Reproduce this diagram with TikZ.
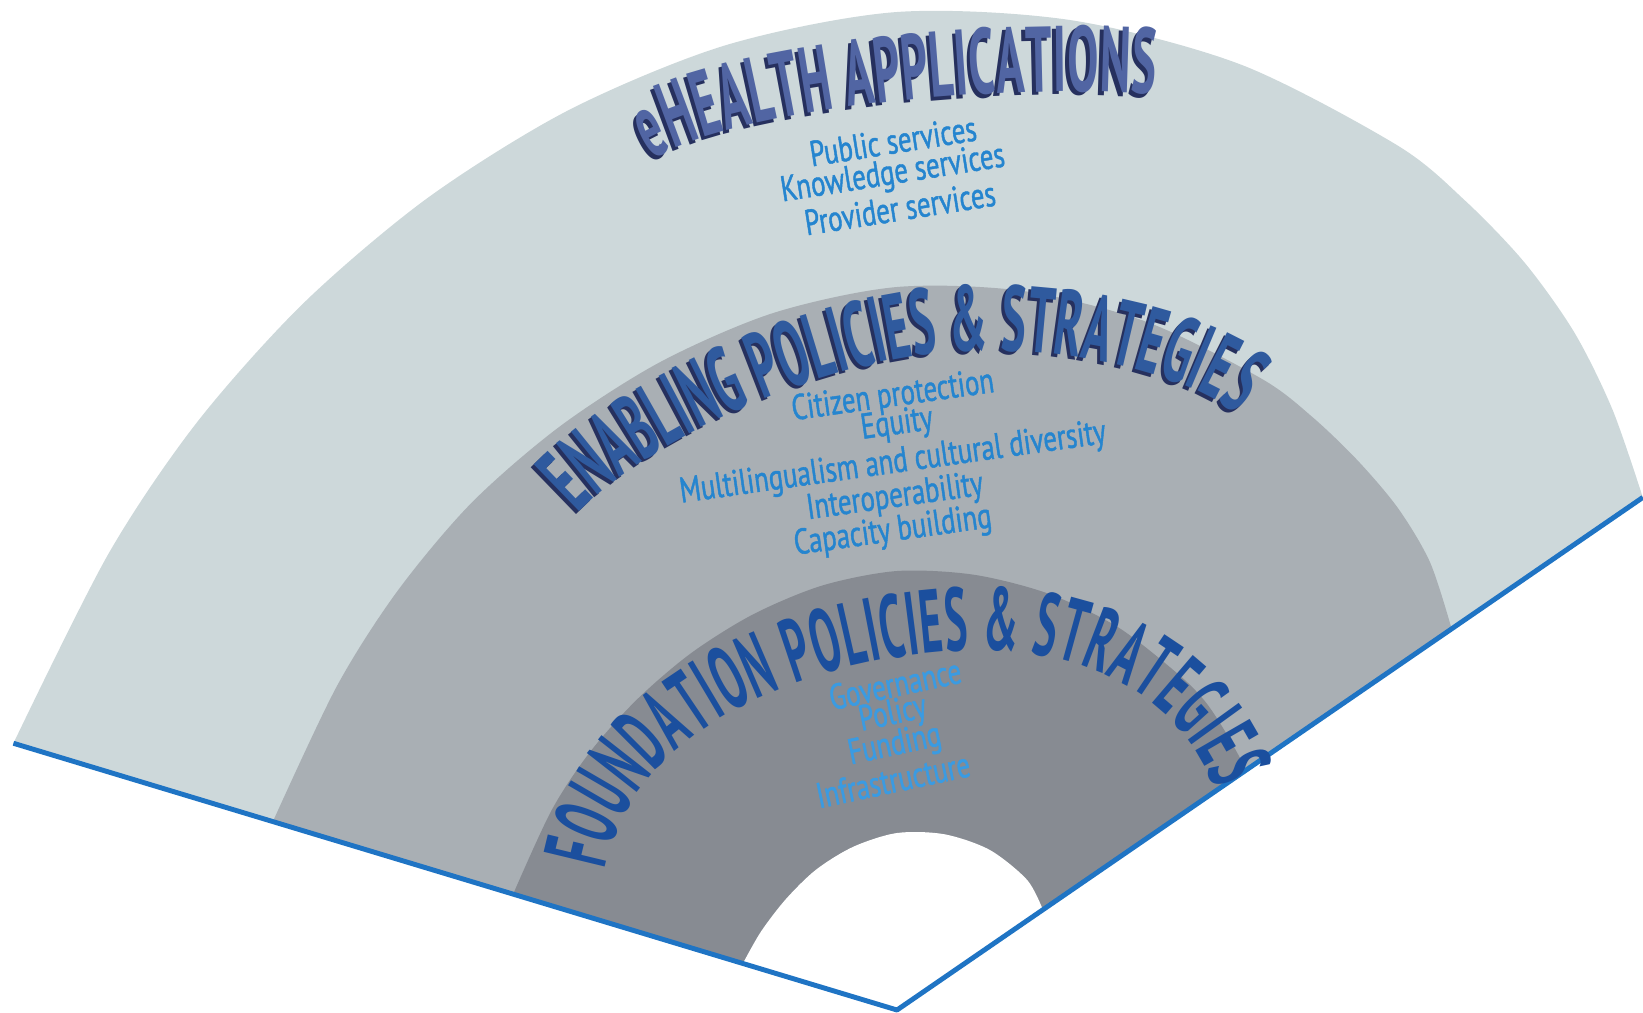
\documentclass[tikz,border=0pt]{standalone}
\usepackage{fontspec}
\usepackage{tikz}
\usetikzlibrary{decorations.text}

\newfontfamily\titlefont{PT Sans}[FakeStretch=0.5]
\newfontfamily\basefont{PT Sans}[FakeStretch=0.48]
\newfontfamily\itemfont{PT Sans}[FakeStretch=0.75, FakeBold=1.2]
\newcommand{\titlestyle}{\titlefont\bfseries\fontsize{26.5}{30}\selectfont}
\newcommand{\basestyle}{\basefont\bfseries\fontsize{25.5}{30}\selectfont}

\definecolor{fanlight}{HTML}{CDD8DA}
\definecolor{fanmid}{HTML}{A9AFB4}
\definecolor{fandark}{HTML}{878B92}
\definecolor{edgeblue}{HTML}{1F74C4}
\definecolor{ehtitle}{HTML}{5165A3}
\definecolor{entitle}{HTML}{2F5A9E}
\definecolor{fdtitle}{HTML}{1B4F9E}
\definecolor{titleshade}{HTML}{26305E}
\definecolor{itemblue}{HTML}{2585CF}
\definecolor{fditem}{HTML}{3A9BE2}

\tikzset{
    fanedge/.style={draw=edgeblue, line width=1.4pt, line join=round},
    item/.style={font=\itemfont\fontsize{10.2}{12}\selectfont, text=itemblue, inner sep=0pt},
    title/.style={decorate, decoration={text along path, text align={fit to path}, text color=#1}},
}

\begin{document}
\begin{tikzpicture}
    \useasboundingbox (0,0) rectangle (16.43,10.12);
    \coordinate (apex) at (8.97,0.02);
    % Rings (polar, around the apex)
    \begin{scope}[shift={(apex)}]
        \coordinate (lend) at (163.2:9.23);
        \coordinate (rend) at (34.5:9.05);
        \fill [fanlight] (0,0) -- plot [smooth] coordinates {(163.2:9.23) (150:9.11) (140:9.14) (130:9.23) (120:9.38) (110:9.58) (100:9.80) (90:9.98) (80:10.05) (70:10.06) (60:9.99) (55:9.89) (50:9.76) (45:9.58) (40:9.34) (34.5:9.05)} -- cycle;
        \fill [fanmid] (0,0) -- plot [smooth] coordinates {(163.2:6.52) (150:6.47) (140:6.52) (130:6.62) (120:6.74) (110:6.90) (100:7.08) (90:7.23) (80:7.30) (70:7.32) (60:7.29) (55:7.24) (50:7.17) (45:7.09) (40:6.96) (34.5:6.73)} -- cycle;
        \fill [fandark] (0,0) -- plot [smooth] coordinates {(163.2:4.01) (150:3.99) (140:4.01) (130:4.05) (120:4.12) (110:4.21) (100:4.31) (90:4.39) (80:4.42) (70:4.43) (60:4.42) (50:4.38) (45:4.36) (40:4.30) (34.5:4.24)} -- cycle;
        \fill [white] (0,0) -- plot [smooth] coordinates {(163.2:1.61) (150:1.57) (135:1.57) (120:1.62) (105:1.69) (90:1.77) (75:1.82) (60:1.85) (45:1.84) (34.5:1.77)} -- cycle;
    \end{scope}
    % Edges
    \draw [fanedge] (lend) -- (apex) -- (rend);
    % Titles
    \path [title=titleshade, xshift=-0.35mm, yshift=-0.35mm, decoration={text={|\titlestyle|eHEALTH APPLICATIONS}}] (6.52,8.52) .. controls (7.3,9.0) and (9.8,9.3) .. (11.55,9.18);
    \path [title=ehtitle, decoration={text={|\titlestyle|eHEALTH APPLICATIONS}}] (6.52,8.52) .. controls (7.3,9.0) and (9.8,9.3) .. (11.55,9.18);
    \path [title=titleshade, xshift=-0.3mm, yshift=-0.3mm, decoration={text={|\titlestyle|ENABLING POLICIES {\&} STRATEGIES}}] (5.78,4.98) .. controls (6.45,5.7) and (8.1,6.47) .. (9.45,6.6) .. controls (10.5,6.7) and (11.8,6.4) .. (12.3,6.02);
    \path [title=entitle, decoration={text={|\titlestyle|ENABLING POLICIES {\&} STRATEGIES}}] (5.78,4.98) .. controls (6.45,5.7) and (8.1,6.47) .. (9.45,6.6) .. controls (10.5,6.7) and (11.8,6.4) .. (12.3,6.02);
    \path [title=fdtitle, decoration={text={|\basestyle|FOUNDATION POLICIES {\&} STRATEGIES}}] (6.05,1.42) .. controls (6.3,2.8) and (8.0,3.55) .. (9.7,3.62) .. controls (10.9,3.66) and (11.85,3.1) .. (12.15,2.22);
    % Applications
    \node [item, rotate=9] (pub) at (8.93,8.71) {Public services};
    \node [item, rotate=9] (know) at (8.93,8.37) {Knowledge services};
    \node [item, rotate=9] (prov) at (9.00,8.04) {Provider services};
    % Enabling
    \node [item, rotate=8] (cit) at (8.93,6.15) {Citizen protection};
    \node [item, rotate=8] (equ) at (8.97,5.87) {Equity};
    \node [item, rotate=8] (multi) at (8.93,5.48) {Multilingualism and cultural diversity};
    \node [item, rotate=8] (inter) at (8.95,5.14) {Interoperability};
    \node [item, rotate=8] (cap) at (8.93,4.80) {Capacity building};
    % Foundation
    \node [item, text=fditem, rotate=12] (gov) at (8.95,3.28) {Governance};
    \node [item, text=fditem, rotate=12] (pol) at (8.93,2.97) {Policy};
    \node [item, text=fditem, rotate=12] (fund) at (8.95,2.66) {Funding};
    \node [item, text=fditem, rotate=12] (infra) at (8.93,2.32) {Infrastructure};
\end{tikzpicture}
\end{document}
